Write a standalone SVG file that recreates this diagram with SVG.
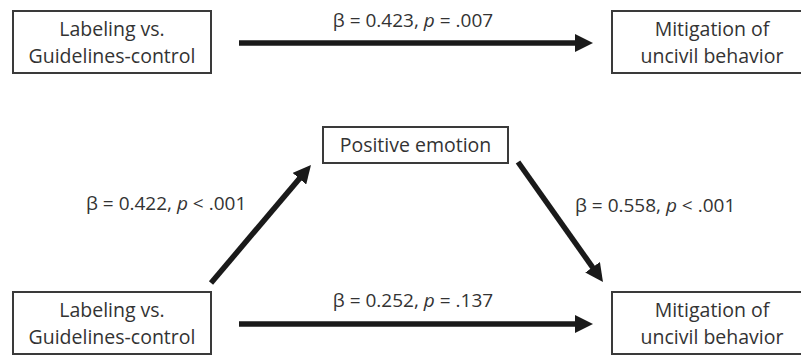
<svg xmlns="http://www.w3.org/2000/svg" width="801" height="355" viewBox="0 0 801 355">
<style>
.box{fill:#fff;stroke:#3a3a3a;stroke-width:2}
.t{font-family:"Open Sans","Liberation Sans",sans-serif;font-size:19.5px;fill:#333;text-anchor:middle}
.l{font-family:"Open Sans","Liberation Sans",sans-serif;font-size:19px;fill:#333}
.arr{stroke:#1a1a1a;stroke-width:5.5;fill:none;marker-end:url(#ah)}
</style>
<defs>
<marker id="ah" markerUnits="userSpaceOnUse" markerWidth="18" markerHeight="18" refX="8" refY="9" orient="auto">
<path d="M0,0 L18,9 L0,18 z" fill="#1a1a1a"/>
</marker>
</defs>
<rect width="801" height="355" fill="#fff"/>
<g id="connectors">
<line class="arr" x1="239" y1="43" x2="583" y2="43"/>
<line class="arr" x1="239" y1="324" x2="583" y2="324"/>
<line class="arr" x1="211" y1="283" x2="304.5" y2="172.6"/>
<line class="arr" x1="518" y1="162" x2="597.2" y2="273.8"/>
<text class="l" x="413" y="27" text-anchor="middle">β = 0.423, <tspan font-style="italic">p</tspan> = .007</text>
<text class="l" x="413" y="307" text-anchor="middle">β = 0.252, <tspan font-style="italic">p</tspan> = .137</text>
<text class="l" x="86" y="210">β = 0.422, <tspan font-style="italic">p</tspan> &lt; .001</text>
<text class="l" x="575" y="212">β = 0.558, <tspan font-style="italic">p</tspan> &lt; .001</text>
</g>
<g id="top-left">
<rect class="box" x="13" y="11" width="198" height="62"/>
<text class="t" x="112" y="36">Labeling vs.</text>
<text class="t" x="112" y="63">Guidelines-control</text>
</g>
<g id="top-right">
<rect class="box" x="612" y="11" width="198" height="62"/>
<text class="t" x="712" y="36">Mitigation of</text>
<text class="t" x="712" y="63">uncivil behavior</text>
</g>
<g id="mediator">
<rect class="box" x="323" y="127" width="185" height="36"/>
<text class="t" x="415.5" y="152">Positive emotion</text>
</g>
<g id="bottom-left">
<rect class="box" x="13" y="292" width="198" height="62"/>
<text class="t" x="112" y="317">Labeling vs.</text>
<text class="t" x="112" y="344">Guidelines-control</text>
</g>
<g id="bottom-right">
<rect class="box" x="612" y="292" width="198" height="62"/>
<text class="t" x="712" y="317">Mitigation of</text>
<text class="t" x="712" y="344">uncivil behavior</text>
</g>
</svg>
